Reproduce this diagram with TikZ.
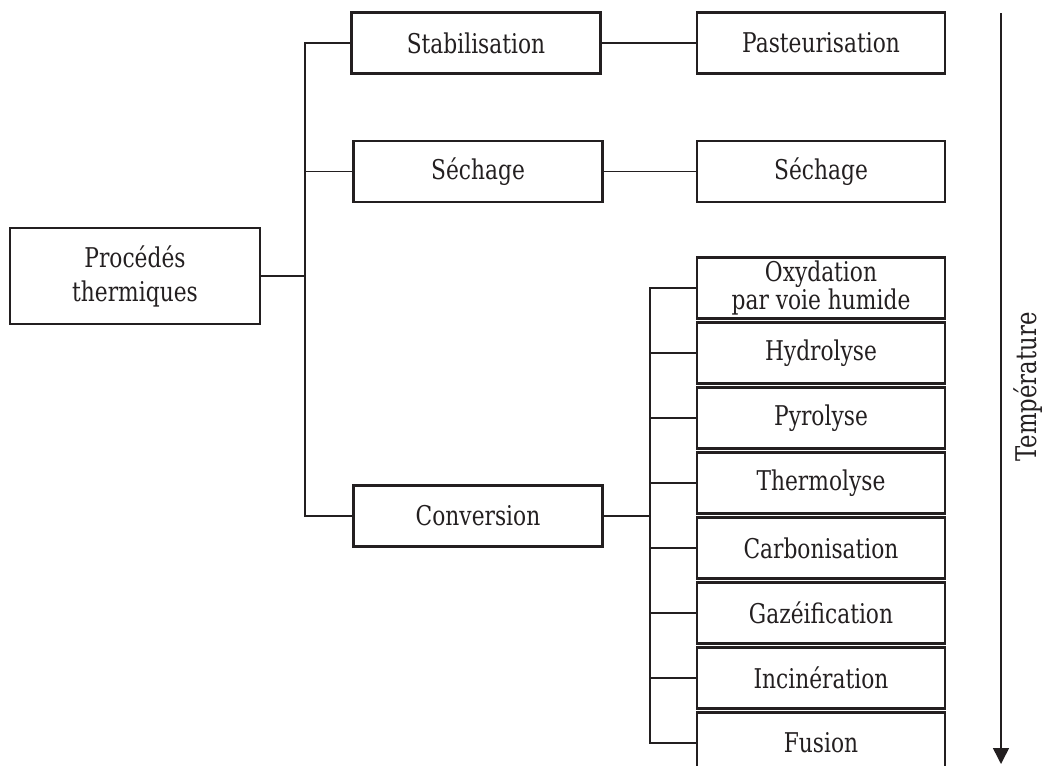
\documentclass[tikz,border=0pt]{standalone}
\usepackage{fontspec}
\setmainfont{DejaVu Serif}[FakeStretch=0.8]
\usetikzlibrary{arrows.meta}
\definecolor{ink}{HTML}{231F20}
\tikzset{
  box/.style={draw=ink, line width=2.5pt, text=ink, minimum height=61pt, inner sep=0pt, align=center,
    font=\fontsize{27.2}{34}\selectfont},
  lbox/.style={box, minimum width=249pt},
  rbox/.style={box, minimum width=248pt},
  conn/.style={draw=ink, line width=1.3pt},
  thick conn/.style={draw=ink, line width=2pt},
}
\begin{document}
\begin{tikzpicture}[x=1pt,y=-1pt]
\useasboundingbox (0,0) rectangle (1045,766);
% left root
\node[box, minimum width=250pt, minimum height=96pt] (proc) at (135,276) {Procédés\\thermiques};
% middle column
\node[lbox] (stab) at (476,43) {Stabilisation};
\node[lbox] (sechL) at (478,171.5) {Séchage};
\node[lbox] (conv) at (478,516) {Conversion};
% right column
\node[rbox] (past) at (821,43) {Pasteurisation};
\node[rbox] (sechR) at (821,171.5) {Séchage};
\node[rbox, font=\fontsize{27.2}{26}\selectfont] (oxy) at (821,288) {Oxydation\\par voie humide};
\node[rbox] (hydro) at (821,353) {Hydrolyse};
\node[rbox] (pyro) at (821,418) {Pyrolyse};
\node[rbox] (thermo) at (821,483) {Thermolyse};
\node[rbox] (carbo) at (821,548) {Carbonisation};
\node[rbox] (gaz) at (821,613) {Gazéification};
\node[rbox] (incin) at (821,678) {Incinération};
\node[rbox] (fus) at (821,743) {Fusion};
% left bracket
\coordinate (bl) at (305,276);
\draw[thick conn] (proc.east) -- (bl);
\draw[conn] (bl) |- (stab.west);
\draw[conn] (bl) |- (sechL.west);
\draw[conn] (bl) |- (conv.west);
\draw[conn] (stab.east) -- (past.west);
\draw[conn] (sechL.east) -- (sechR.west);
% right bracket
\coordinate (br) at (650,516);
\draw[thick conn] (conv.east) -- (br);
\foreach \n in {oxy,hydro,pyro,thermo,carbo,gaz,incin,fus}
  \draw[conn] (br) |- (\n.west);
% temperature arrow
\coordinate (atop) at (1001,13);
\coordinate (abot) at (1001,764);
\draw[draw=ink, line width=1.5pt, -{Triangle[length=16pt,width=16pt]}] (atop) -- (abot);
\node[rotate=90, text=ink, font=\fontsize{28.5}{34}\selectfont, inner sep=0pt] (temp) at (1028,387) {Température};
\end{tikzpicture}
\end{document}
